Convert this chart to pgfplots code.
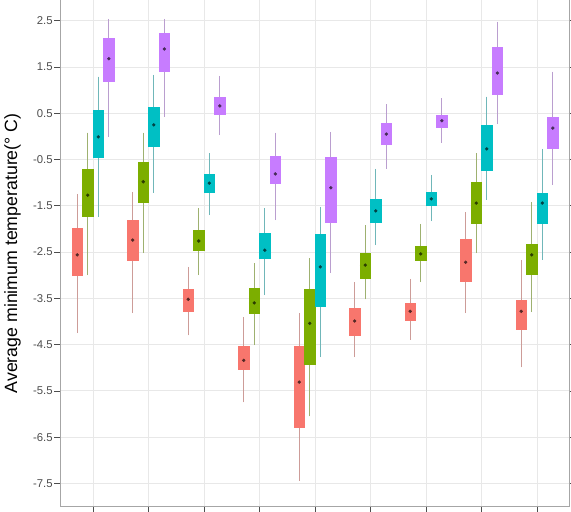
\documentclass[border=0pt]{standalone}
\usepackage{fontspec}
\setmainfont{Liberation Sans}
\usepackage{pgfplots}
\pgfplotsset{compat=1.18}
\usepgfplotslibrary{statistics}
\definecolor{cR}{HTML}{F8766D}
\definecolor{cG}{HTML}{7CAE00}
\definecolor{cC}{HTML}{00BFC4}
\definecolor{cP}{HTML}{C77CFF}
\definecolor{gridc}{HTML}{E8E8E8}
\definecolor{tickc}{HTML}{4D4D4D}
% colour, position, lower whisker, lower quartile, median(dot), upper quartile, upper whisker
\newcommand{\bx}[7]{%
\addplot[fill=#1, draw=#1, line width=0.2pt,
  boxplot prepared={draw position=#2, lower whisker=#3, lower quartile=#4,
  median=#5, upper quartile=#6, upper whisker=#7, box extend=0.19, whisker extend=0,
  every whisker/.style={draw=#1!50!gray!75!white, line width=0.6pt},
  every median/.style={draw=#1}}] coordinates {};
\addplot[only marks, mark=*, mark size=1.05pt, color=#1!35!black] coordinates {(#2,#5)};
}
\begin{document}
\begin{tikzpicture}
\begin{axis}[
  scale only axis, width=382.1pt, height=388.2pt,
  xmin=0.405, xmax=9.586, ymin=-7.99, ymax=3.2,
  boxplot/draw direction=y,
  xtick={1,2,3,4,5,6,7,8,9}, xticklabels={},
  ytick={-7.5,-6.5,-5.5,-4.5,-3.5,-2.5,-1.5,-0.5,0.5,1.5,2.5},
  yticklabels={-7.5,-6.5,-5.5,-4.5,-3.5,-2.5,-1.5,-0.5,0.5,1.5,2.5},
  tick align=outside, major tick length=4.5pt,
  tick style={tickc, line width=0.5pt},
  yticklabel style={font=\fontsize{8.5}{9}\selectfont, text=tickc, xshift=2.5pt},
  grid=major, major grid style={gridc, line width=0.6pt},
  axis line style={draw=gray!70},
  ylabel={Average minimum temperature(° C)},
  ylabel style={font=\fontsize{13.3}{15}\selectfont, at={(axis description cs:-0.093,0.488)}, anchor=center, rotate=0},
  clip=false,
]
% group 1
\bx{cR}{0.715}{-4.25}{-3.00}{-2.56}{-1.98}{-1.24}
\bx{cG}{0.905}{-3.00}{-1.72}{-1.27}{-0.70}{0.08}
\bx{cC}{1.095}{-1.74}{-0.44}{-0.01}{0.57}{1.29}
\bx{cP}{1.285}{-0.01}{1.20}{1.68}{2.13}{2.54}
% group 2
\bx{cR}{1.715}{-3.82}{-2.67}{-2.24}{-1.81}{-1.20}
\bx{cG}{1.905}{-2.52}{-1.42}{-0.98}{-0.55}{0.08}
\bx{cC}{2.095}{-1.22}{-0.21}{0.25}{0.64}{1.33}
\bx{cP}{2.285}{0.42}{1.42}{1.89}{2.24}{2.54}
% group 3
\bx{cR}{2.715}{-4.30}{-3.78}{-3.52}{-3.30}{-2.82}
\bx{cG}{2.905}{-3.00}{-2.46}{-2.26}{-2.02}{-1.55}
\bx{cC}{3.095}{-1.70}{-1.20}{-1.01}{-0.81}{-0.36}
\bx{cP}{3.285}{0.03}{0.49}{0.66}{0.86}{1.31}
% group 4
\bx{cR}{3.715}{-5.75}{-5.03}{-4.84}{-4.53}{-3.91}
\bx{cG}{3.905}{-4.51}{-3.82}{-3.60}{-3.28}{-2.74}
\bx{cC}{4.095}{-3.43}{-2.63}{-2.46}{-2.09}{-1.55}
\bx{cP}{4.285}{-1.81}{-1.01}{-0.81}{-0.42}{0.08}
% group 5
\bx{cR}{4.715}{-7.44}{-6.29}{-5.31}{-4.53}{-3.82}
\bx{cG}{4.905}{-6.05}{-4.92}{-4.04}{-3.30}{-2.63}
\bx{cC}{5.095}{-4.77}{-3.67}{-2.82}{-2.11}{-1.53}
\bx{cP}{5.285}{-2.95}{-1.85}{-1.11}{-0.44}{0.10}
% group 6
\bx{cR}{5.715}{-4.77}{-4.30}{-3.99}{-3.71}{-3.15}
\bx{cG}{5.905}{-3.52}{-3.06}{-2.78}{-2.52}{-1.92}
\bx{cC}{6.095}{-2.35}{-1.85}{-1.61}{-1.35}{-0.70}
\bx{cP}{6.285}{-0.70}{-0.16}{0.05}{0.29}{0.70}
% group 7
\bx{cR}{6.715}{-4.40}{-3.97}{-3.78}{-3.60}{-3.08}
\bx{cG}{6.905}{-3.15}{-2.67}{-2.54}{-2.37}{-1.89}
\bx{cC}{7.095}{-1.83}{-1.48}{-1.35}{-1.20}{-0.83}
\bx{cP}{7.285}{-0.14}{0.21}{0.34}{0.47}{0.83}
% group 8
\bx{cR}{7.715}{-3.82}{-3.13}{-2.72}{-2.22}{-1.64}
\bx{cG}{7.905}{-2.52}{-1.87}{-1.44}{-0.98}{-0.36}
\bx{cC}{8.095}{-1.37}{-0.72}{-0.27}{0.25}{0.86}
\bx{cP}{8.285}{0.27}{0.92}{1.37}{1.92}{2.48}
% group 9
\bx{cR}{8.715}{-4.99}{-4.17}{-3.78}{-3.54}{-2.67}
\bx{cG}{8.905}{-3.80}{-2.98}{-2.56}{-2.33}{-1.42}
\bx{cC}{9.095}{-2.67}{-1.87}{-1.44}{-1.22}{-0.27}
\bx{cP}{9.285}{-1.05}{-0.25}{0.18}{0.42}{1.40}
\end{axis}
\pgfresetboundingbox
\useasboundingbox ([xshift=-45pt,yshift=-3.75pt]current axis.south west) rectangle ([xshift=1.1pt,yshift=379.5pt]current axis.south east);
\end{tikzpicture}
\end{document}
